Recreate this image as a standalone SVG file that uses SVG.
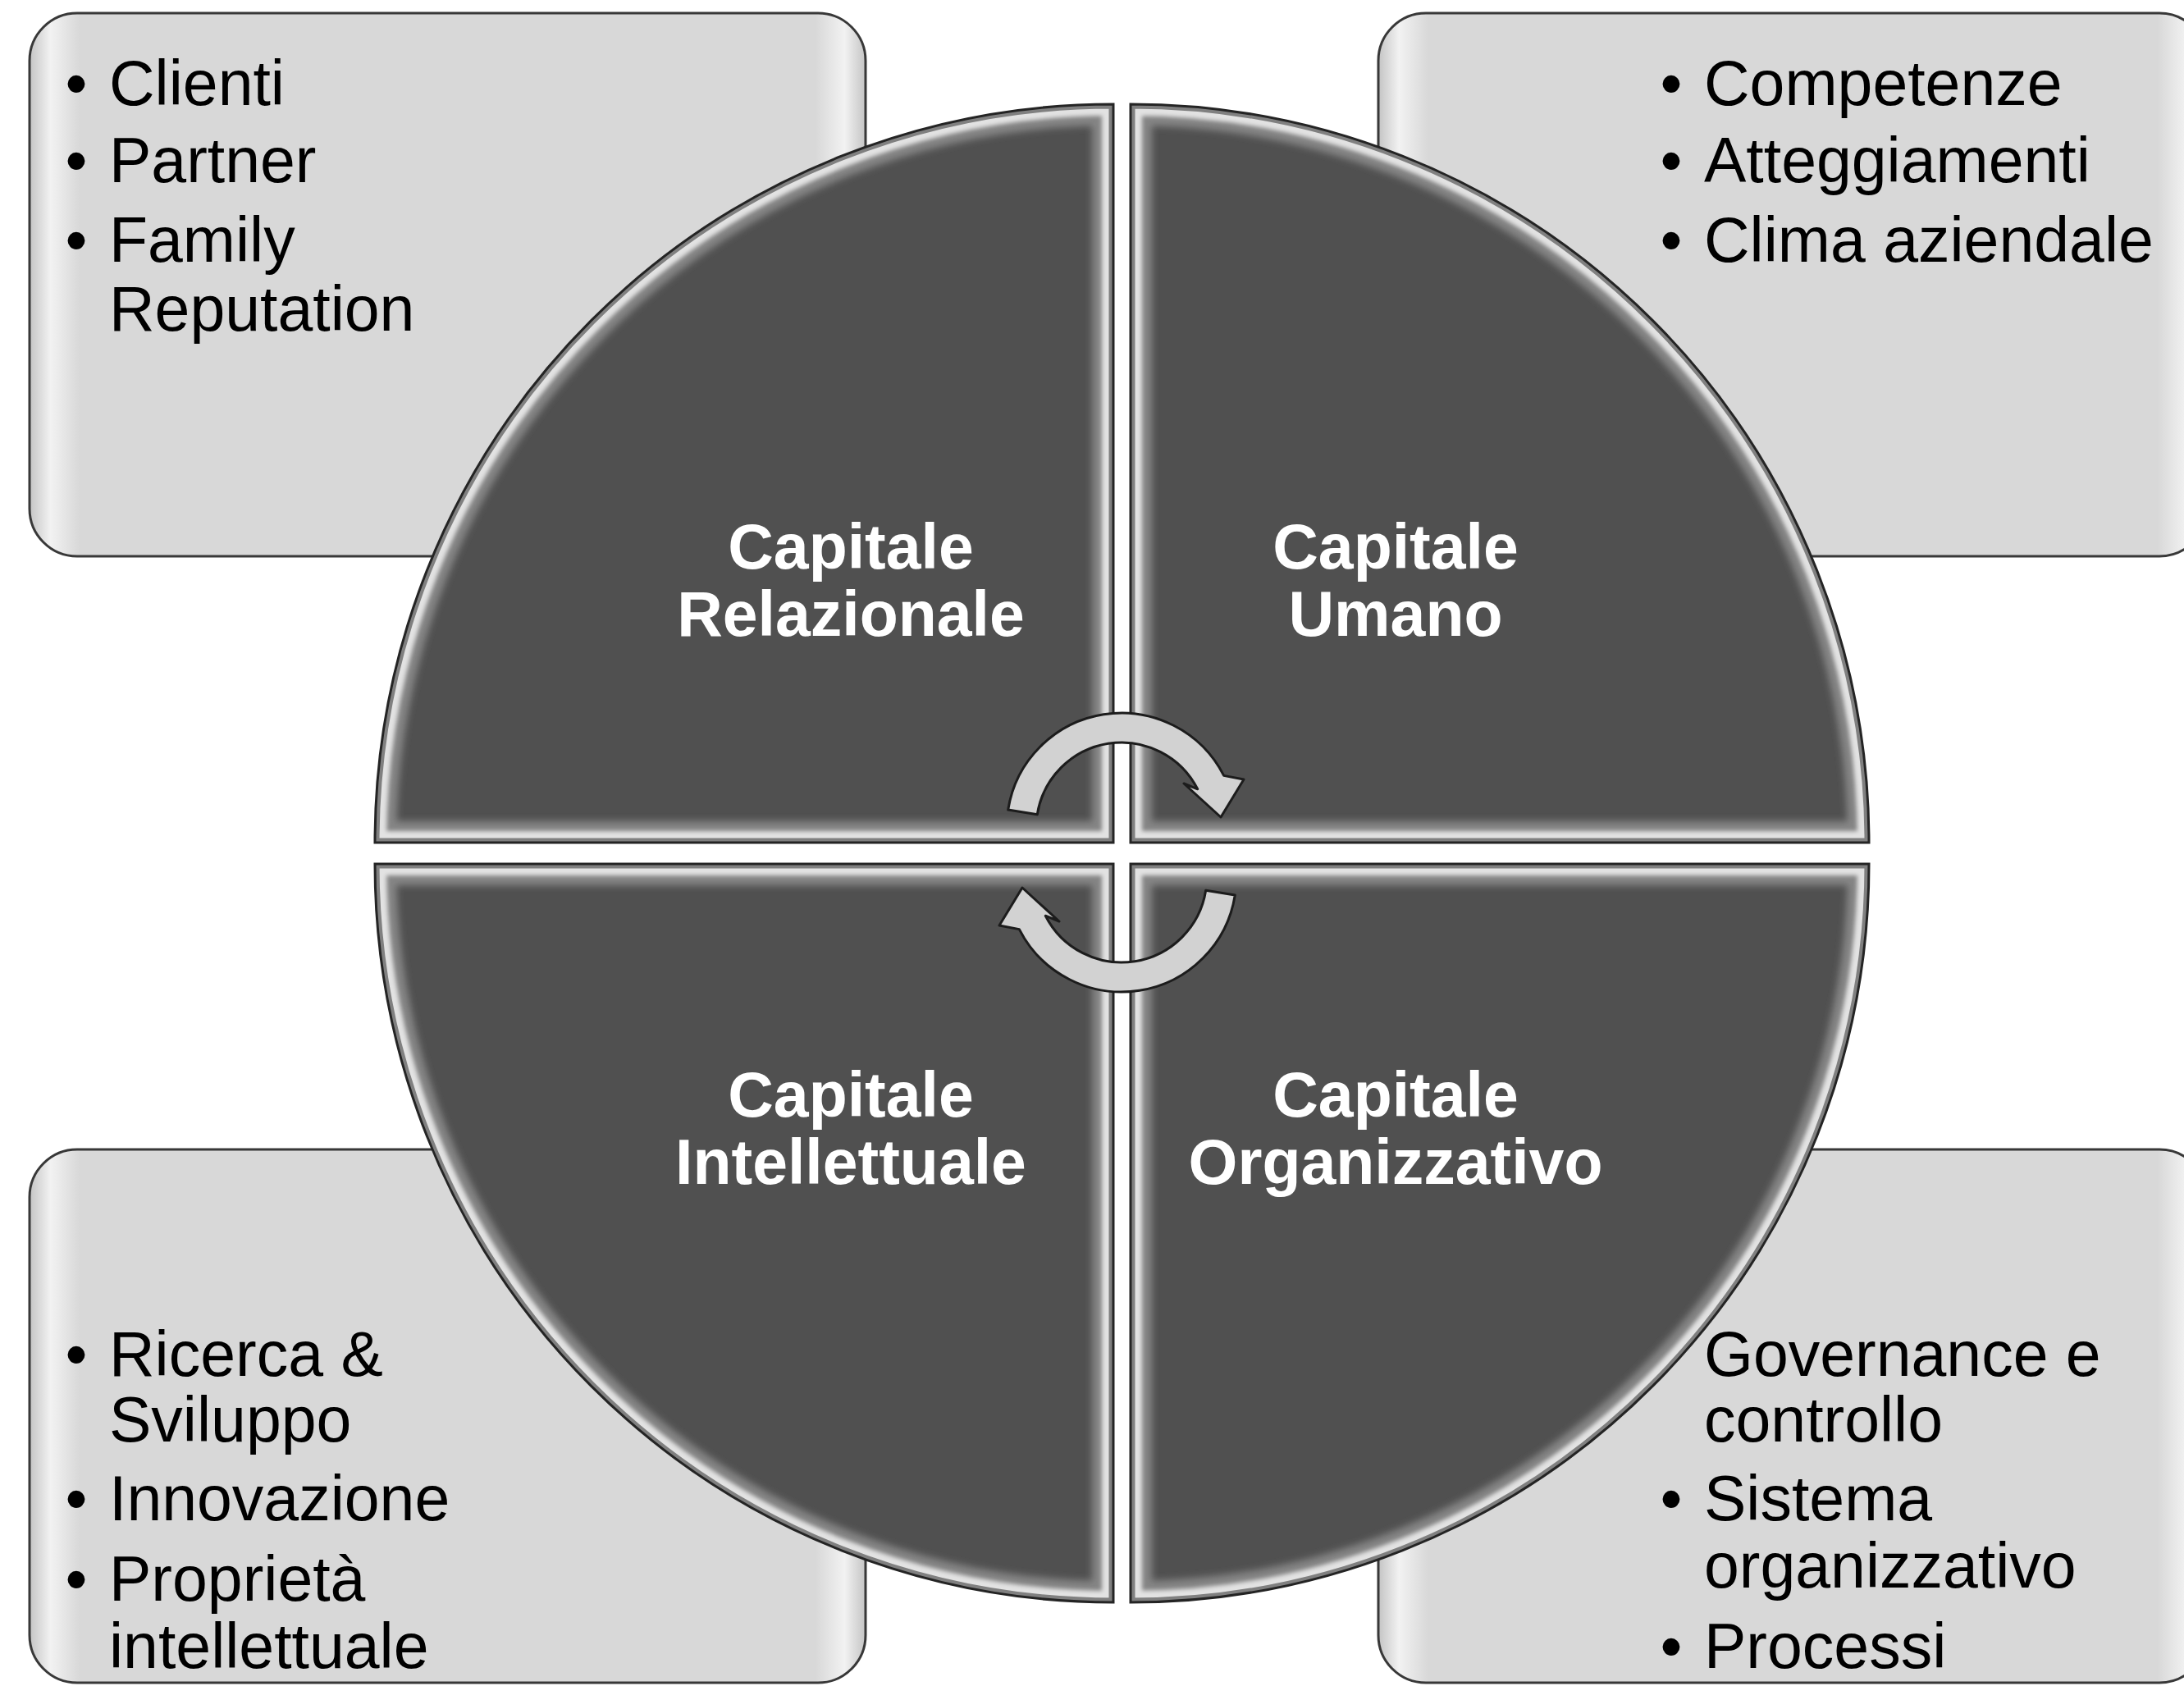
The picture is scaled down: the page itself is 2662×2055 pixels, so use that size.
<svg xmlns="http://www.w3.org/2000/svg" xmlns:xlink="http://www.w3.org/1999/xlink" width="2662" height="2055" viewBox="0 0 2662 2055">
<style>
.box{fill:url(#boxg);stroke:#383838;stroke-width:3}
.bt{font-family:"Liberation Sans",Arial,sans-serif;font-size:77px;fill:#000}
.bu{font-family:"Liberation Sans",Arial,sans-serif;font-size:77px;fill:#000;text-anchor:middle}
.lb{font-family:"Liberation Sans",Arial,sans-serif;font-size:77px;font-weight:bold;fill:#fff;text-anchor:middle}
.qf{fill:#505050}
.b1{fill:none;stroke:#858585;stroke-width:52}
.b2{fill:none;stroke:#e2e2e2;stroke-width:28}
.b3{fill:none;stroke:#808080;stroke-width:11}
.ol{fill:none;stroke:#242424;stroke-width:3}
.arr{fill:#d2d2d2;stroke:#1c1c1c;stroke-width:3;stroke-linejoin:round}
</style>
<defs>
<linearGradient id="boxg" x1="0" y1="0" x2="1" y2="0">
<stop offset="0" stop-color="#c4c4c4"/>
<stop offset="0.025" stop-color="#f2f2f2"/>
<stop offset="0.06" stop-color="#d8d8d8"/>
<stop offset="0.94" stop-color="#d8d8d8"/>
<stop offset="0.975" stop-color="#f2f2f2"/>
<stop offset="1" stop-color="#c4c4c4"/>
</linearGradient>
<filter id="s4" x="-5%" y="-5%" width="110%" height="110%"><feGaussianBlur stdDeviation="4"/></filter>
<filter id="s2" x="-5%" y="-5%" width="110%" height="110%"><feGaussianBlur stdDeviation="2.5"/></filter>
<path id="pTL" d="M1357,1027 L1357,127 A900,900 0 0 0 457,1027 Z"/>
<path id="pTR" d="M1378,1027 L2278,1027 A900,900 0 0 0 1378,127 Z"/>
<path id="pBL" d="M1357,1053 L457,1053 A900,900 0 0 0 1357,1953 Z"/>
<path id="pBR" d="M1378,1053 L1378,1953 A900,900 0 0 0 2278,1053 Z"/>
<clipPath id="cTL"><use xlink:href="#pTL"/></clipPath>
<clipPath id="cTR"><use xlink:href="#pTR"/></clipPath>
<clipPath id="cBL"><use xlink:href="#pBL"/></clipPath>
<clipPath id="cBR"><use xlink:href="#pBR"/></clipPath>
<path id="arrow" d="M1228.7,987.1 A140,140 0 0 1 1491.7,945.4 L1516,950 L1488,996 L1443,955 L1459.7,961.8 A104,104 0 0 0 1264.3,992.7 Z"/>
</defs>
<rect x="0" y="0" width="2662" height="2055" fill="#fff"/>

<g id="box-relazionale">
<rect class="box" x="36" y="16" width="1019" height="662" rx="58"/>
<text class="bu" x="93" y="128">•</text><text class="bt" x="133" y="128">Clienti</text>
<text class="bu" x="93" y="222">•</text><text class="bt" x="133" y="222">Partner</text>
<text class="bu" x="93" y="319">•</text><text class="bt" x="133" y="319">Family</text>
<text class="bt" x="133" y="403">Reputation</text>
</g>

<g id="box-umano">
<rect class="box" x="1680" y="16" width="1010" height="662" rx="58"/>
<text class="bu" x="2037" y="128">•</text><text class="bt" x="2077" y="128">Competenze</text>
<text class="bu" x="2037" y="222">•</text><text class="bt" x="2077" y="222">Atteggiamenti</text>
<text class="bu" x="2037" y="319">•</text><text class="bt" x="2077" y="319">Clima aziendale</text>
</g>

<g id="box-intellettuale">
<rect class="box" x="36" y="1401" width="1019" height="650" rx="58"/>
<text class="bu" x="93" y="1677">•</text><text class="bt" x="133" y="1677">Ricerca &amp;</text>
<text class="bt" x="133" y="1757">Sviluppo</text>
<text class="bu" x="93" y="1853">•</text><text class="bt" x="133" y="1853">Innovazione</text>
<text class="bu" x="93" y="1951">•</text><text class="bt" x="133" y="1951">Proprietà</text>
<text class="bt" x="133" y="2033">intellettuale</text>
</g>

<g id="box-organizzativo">
<rect class="box" x="1680" y="1401" width="1010" height="650" rx="58"/>
<text class="bu" x="2037" y="1677">•</text><text class="bt" x="2077" y="1677">Governance e</text>
<text class="bt" x="2077" y="1757">controllo</text>
<text class="bu" x="2037" y="1853">•</text><text class="bt" x="2077" y="1853">Sistema</text>
<text class="bt" x="2077" y="1935">organizzativo</text>
<text class="bu" x="2037" y="2033">•</text><text class="bt" x="2077" y="2033">Processi</text>
</g>

<g id="capitale-relazionale">
<use xlink:href="#pTL" class="qf"/>
<g clip-path="url(#cTL)">
<use xlink:href="#pTL" class="b1" filter="url(#s4)"/>
<use xlink:href="#pTL" class="b2" filter="url(#s2)"/>
<use xlink:href="#pTL" class="b3"/>
</g>
<use xlink:href="#pTL" class="ol"/>
<text class="lb" x="1037" y="693">Capitale</text>
<text class="lb" x="1037" y="775">Relazionale</text>
</g>

<g id="capitale-umano">
<use xlink:href="#pTR" class="qf"/>
<g clip-path="url(#cTR)">
<use xlink:href="#pTR" class="b1" filter="url(#s4)"/>
<use xlink:href="#pTR" class="b2" filter="url(#s2)"/>
<use xlink:href="#pTR" class="b3"/>
</g>
<use xlink:href="#pTR" class="ol"/>
<text class="lb" x="1701" y="693">Capitale</text>
<text class="lb" x="1701" y="775">Umano</text>
</g>

<g id="capitale-intellettuale">
<use xlink:href="#pBL" class="qf"/>
<g clip-path="url(#cBL)">
<use xlink:href="#pBL" class="b1" filter="url(#s4)"/>
<use xlink:href="#pBL" class="b2" filter="url(#s2)"/>
<use xlink:href="#pBL" class="b3"/>
</g>
<use xlink:href="#pBL" class="ol"/>
<text class="lb" x="1037" y="1361">Capitale</text>
<text class="lb" x="1037" y="1443">Intellettuale</text>
</g>

<g id="capitale-organizzativo">
<use xlink:href="#pBR" class="qf"/>
<g clip-path="url(#cBR)">
<use xlink:href="#pBR" class="b1" filter="url(#s4)"/>
<use xlink:href="#pBR" class="b2" filter="url(#s2)"/>
<use xlink:href="#pBR" class="b3"/>
</g>
<use xlink:href="#pBR" class="ol"/>
<text class="lb" x="1701" y="1361">Capitale</text>
<text class="lb" x="1701" y="1443">Organizzativo</text>
</g>

<g id="connectors">
<use xlink:href="#arrow" class="arr"/>
<use xlink:href="#arrow" class="arr" transform="rotate(180 1367 1039)"/>
</g>
</svg>
